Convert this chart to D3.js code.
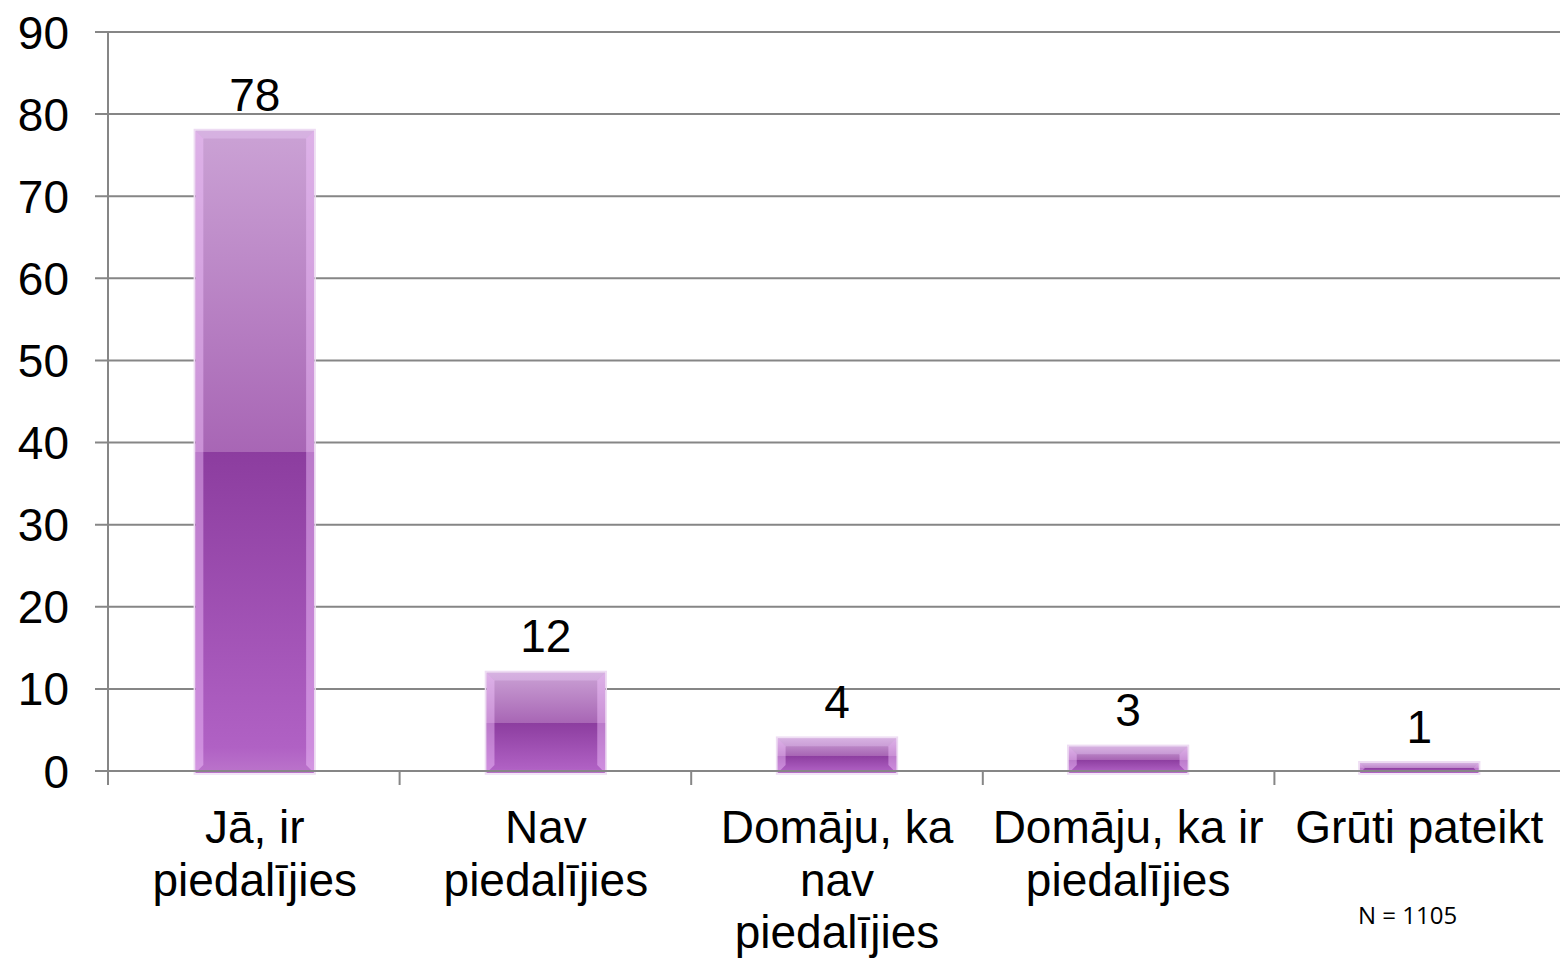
<!DOCTYPE html>
<html>
<head>
<meta charset="utf-8">
<script src="https://cdn.jsdelivr.net/npm/d3@7"></script>
<style>
  body { margin: 0; background: #fff; }
  svg text { font-family: "Liberation Sans", Arial, sans-serif; fill: #000; }
</style>
</head>
<body>
<svg id="chart"></svg>
<script>
const categories = ["Jā, ir piedalījies", "Nav piedalījies", "Domāju, ka nav piedalījies", "Domāju, ka ir piedalījies", "Grūti pateikt"];
const categoryLines = [["Jā, ir", "piedalījies"], ["Nav", "piedalījies"], ["Domāju, ka", "nav", "piedalījies"], ["Domāju, ka ir", "piedalījies"], ["Grūti pateikt"]];
const values = [78, 12, 4, 3, 1];
const yTicks = [0, 10, 20, 30, 40, 50, 60, 70, 80, 90];
const note = "N = 1105";

const width = 1560, height = 962;
const margin = { top: 32, bottom: 191, left: 108 };
const plotRight = 1566;

const svg = d3.select("#chart").attr("width", width).attr("height", height);

const xOuter = d3.scaleBand().domain(categories).range([margin.left, plotRight]);
const x = d3.scaleBand().domain(categories).range([margin.left, plotRight]).paddingInner(0.592).paddingOuter(0.3);
const y = d3.scaleLinear().domain([0, 90]).range([height - margin.bottom, margin.top]);

const defs = svg.append("defs");
const grad = defs.append("linearGradient").attr("id", "barGrad").attr("x1", 0).attr("y1", 0).attr("x2", 0).attr("y2", 1);
[[0, "#cba2d5"], [0.5, "#a866b5"], [0.5, "#8c3d9f"], [0.96, "#b061c4"], [1, "#bb74cb"]].forEach(([o, c]) => {
    grad.append("stop").attr("offset", o).attr("stop-color", c);
});

// gridlines
svg.append("g")
    .selectAll("line")
    .data(yTicks.filter(d => d > 0))
    .join("line")
    .attr("x1", margin.left - 13)
    .attr("x2", width)
    .attr("y1", d => y(d))
    .attr("y2", d => y(d))
    .attr("stroke", "#868686")
    .attr("stroke-width", 2);

// y axis line
svg.append("line")
    .attr("x1", margin.left).attr("x2", margin.left)
    .attr("y1", y(90)).attr("y2", y(0) + 14)
    .attr("stroke", "#868686").attr("stroke-width", 2);

// y tick labels
svg.append("g")
    .selectAll("text")
    .data(yTicks)
    .join("text")
    .attr("x", 69)
    .attr("y", d => y(d))
    .attr("dy", "0.36em")
    .attr("text-anchor", "end")
    .attr("font-size", 46)
    .text(d => d);

// bars
const bars = svg.append("g")
    .selectAll("g")
    .data(values)
    .join("g")
    .attr("transform", (d, i) => `translate(${x(categories[i])},0)`);

const bw = x.bandwidth();

bars.append("rect")
    .attr("x", -1)
    .attr("y", d => y(d) - 1)
    .attr("width", bw + 2)
    .attr("height", d => y(0) - y(d) + 4)
    .attr("fill", "none")
    .attr("stroke", "#eedcf3")
    .attr("stroke-width", 1.5);

bars.append("rect")
    .attr("x", 0)
    .attr("y", d => y(d))
    .attr("width", bw)
    .attr("height", d => y(0) - y(d) + 2)
    .attr("fill", "url(#barGrad)");

// bevel edges
const bevel = (d, side) => {
    const t = y(d), b = y(0) + 2, h = b - t;
    const s = Math.min(8, h / 2);
    if (side === "left") return `M0,${t}L${s},${t + s}L${s},${b - s}L0,${b}Z`;
    if (side === "right") return `M${bw},${t}L${bw - s},${t + s}L${bw - s},${b - s}L${bw},${b}Z`;
    return `M0,${t}L${bw},${t}L${bw - s},${t + s}L${s},${t + s}Z`;
};
bars.append("path").attr("d", d => bevel(d, "left")).attr("fill", "#f3c6ff").attr("opacity", 0.45);
bars.append("path").attr("d", d => bevel(d, "right")).attr("fill", "#f3c6ff").attr("opacity", 0.45);
bars.append("path").attr("d", d => bevel(d, "top")).attr("fill", "#f3d6ff").attr("opacity", 0.3);

// zero line and category ticks
svg.append("line")
    .attr("x1", margin.left - 13).attr("x2", width)
    .attr("y1", y(0)).attr("y2", y(0))
    .attr("stroke", "#868686").attr("stroke-width", 2);

svg.append("g")
    .selectAll("line")
    .data(categories.slice(1))
    .join("line")
    .attr("x1", d => xOuter(d))
    .attr("x2", d => xOuter(d))
    .attr("y1", y(0))
    .attr("y2", y(0) + 14)
    .attr("stroke", "#868686")
    .attr("stroke-width", 2);

// value labels
svg.append("g")
    .selectAll("text")
    .data(values)
    .join("text")
    .attr("x", (d, i) => x(categories[i]) + bw / 2)
    .attr("y", d => y(d) - 20)
    .attr("text-anchor", "middle")
    .attr("font-size", 46)
    .text(d => d);

// category labels
const cat = svg.append("g")
    .selectAll("text")
    .data(categories)
    .join("text")
    .attr("x", d => x(d) + bw / 2)
    .attr("y", 843)
    .attr("text-anchor", "middle")
    .attr("font-size", 46);

cat.selectAll("tspan")
    .data((d, i) => categoryLines[i])
    .join("tspan")
    .attr("x", function () { return this.parentNode.getAttribute("x"); })
    .attr("dy", (d, j) => j === 0 ? 0 : 52.5)
    .text(d => d);

svg.append("text")
    .attr("x", 1358)
    .attr("y", 924)
    .attr("font-size", 24)
    .style("font-family", "'Open Sans', sans-serif")
    .text(note);
</script>
</body>
</html>
